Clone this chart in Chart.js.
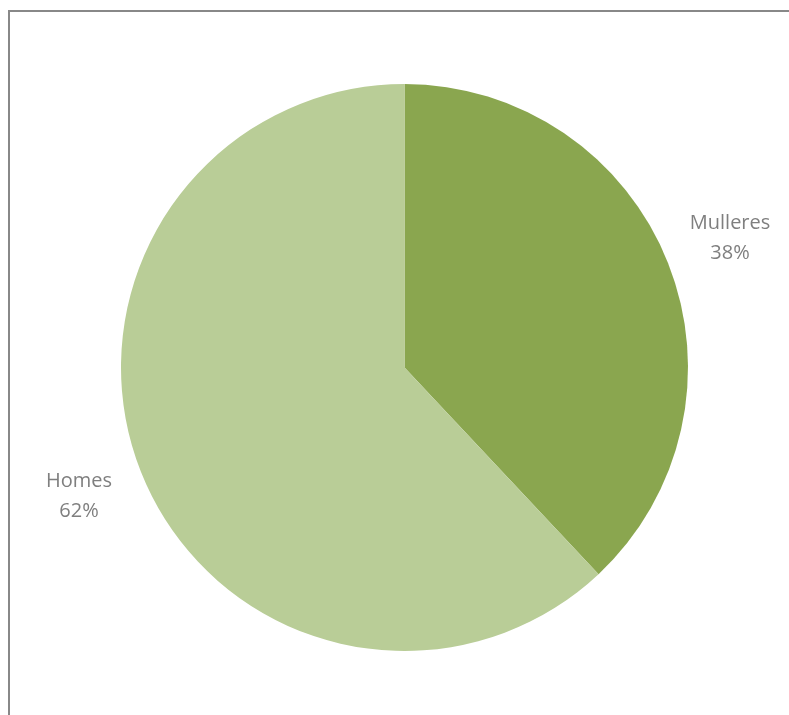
<!DOCTYPE html>
<html>
<head>
<meta charset="utf-8">
<title>Homes e mulleres</title>
<script src="https://cdn.jsdelivr.net/npm/chart.js@4"></script>
<style>
    body{
        margin: 0;
        background: #fff;
    }
    .frame{
        position: absolute;
        left: 8px;
        top: 10px;
        width: 800px;
        height: 720px;
        border-top: 2px solid #888;
        border-left: 2px solid #888;
    }
    .wrap{
        position: absolute;
        left: 0;
        top: 0;
        width: 789px;
        height: 715px;
    }
</style>
</head>
<body>
<div class="frame"></div>
<div class="wrap">
    <canvas id="myChart" width="789" height="715"></canvas>
</div>
<script>

    const labels = ['Mulleres', 'Homes']
    const values = [38, 62]
    const colors = ['#8aa64f', '#b9cd97']

    // etiquetas fora da torta: nome + porcentaxe
    const outLabels = {
        id: 'outLabels',
        afterDatasetsDraw(chart){
            const ctx = chart.ctx
            const meta = chart.getDatasetMeta(0)
            const total = values.reduce((a, b) => a + b, 0)
            ctx.save()
            ctx.font = '20px "Open Sans", Lato, sans-serif'
            ctx.fillStyle = '#7f7f7f'
            ctx.textAlign = 'center'
            ctx.textBaseline = 'middle'
            meta.data.forEach((arc, i) => {
                const p = arc.getProps(['x', 'y', 'startAngle', 'endAngle', 'outerRadius'], true)
                const mid = (p.startAngle + p.endAngle) / 2
                const r = p.outerRadius * 1.235
                const cx = p.x + Math.cos(mid) * r
                const cy = p.y + Math.sin(mid) * r
                const pct = Math.round(values[i] / total * 100) + '%'
                ctx.fillText(labels[i], cx, cy - 15)
                ctx.fillText(pct, cx, cy + 15)
            })
            ctx.restore()
        }
    }

    const ctx = document.getElementById('myChart')

    const chart = new Chart(ctx, {
        type: 'pie',
        data: {
            labels: labels,
            datasets: [{
                data: values,
                backgroundColor: colors,
                borderWidth: 0
            }]
        },
        options: {
            responsive: false,
            animation: false,
            layout: {
                padding: {left: 121, right: 101, top: 84, bottom: 64}
            },
            plugins: {
                legend: {display: false},
                tooltip: {enabled: false}
            }
        },
        plugins: [outLabels]
    })

</script>
</body>
</html>
